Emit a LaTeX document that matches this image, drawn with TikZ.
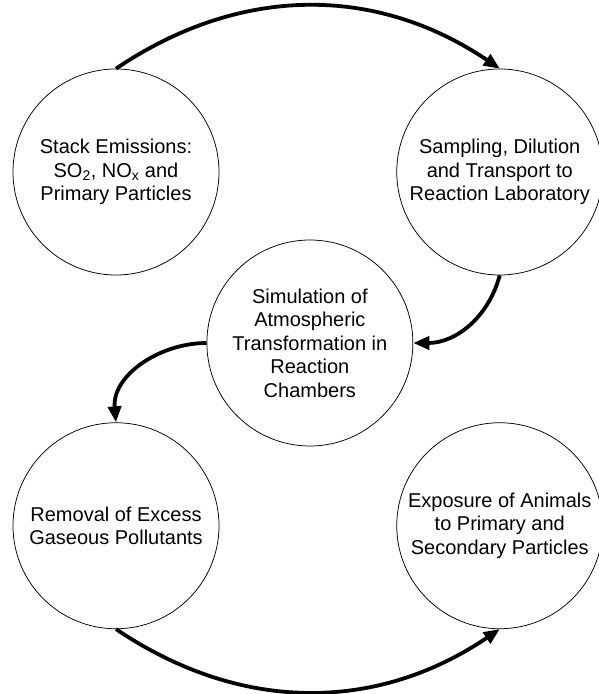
\documentclass[tikz,border=0pt]{standalone}
\usepackage{fontspec}
\setmainfont{Liberation Sans}
\usetikzlibrary{arrows.meta,positioning,calc}

\begin{document}
\begin{tikzpicture}[
  process/.style={draw=black, circle, line width=0.75pt, fill=white,
    align=center, inner sep=0pt, minimum size=206pt,
    font=\fontsize{20pt}{23.5pt}\selectfont},
  flow/.style={-{Triangle[length=16pt, width=13pt]}, line width=3.8pt, draw=black}
]
\useasboundingbox (0,0) rectangle (598pt,694pt);

% --- Top row ---
\node[process] (stack) at (116pt,522pt) {Stack Emissions:\\
  SO\textsubscript{2}, NO\textsubscript{x} and\\Primary Particles};
\node[process, right=177pt of stack] (sampling) {Sampling, Dilution\\
  and Transport to\\Reaction Laboratory};

% --- Middle: reaction chambers ---
\path ($(stack)!0.5!(sampling)$) ++(2pt,-171pt) node[process] (chamber) {%
  Simulation of\\Atmospheric\\Transformation in\\Reaction\\Chambers};

% --- Bottom row ---
\node[process, below=147pt of stack] (removal) {Removal of Excess\\
  Gaseous Pollutants};
\node[process, right=177pt of removal] (exposure) {Exposure of Animals\\
  to Primary and\\Secondary Particles};

% --- Arrows ---
\draw[flow] (stack.north) to[out=34, in=146] (sampling.north);
\draw[flow] (sampling.south) to[out=-105, in=0] (chamber.east);
\draw[flow] (chamber.west) to[out=180, in=95] (removal.north);
\draw[flow] (removal.south) to[out=-34, in=-146] (exposure.south);

\end{tikzpicture}
\end{document}
